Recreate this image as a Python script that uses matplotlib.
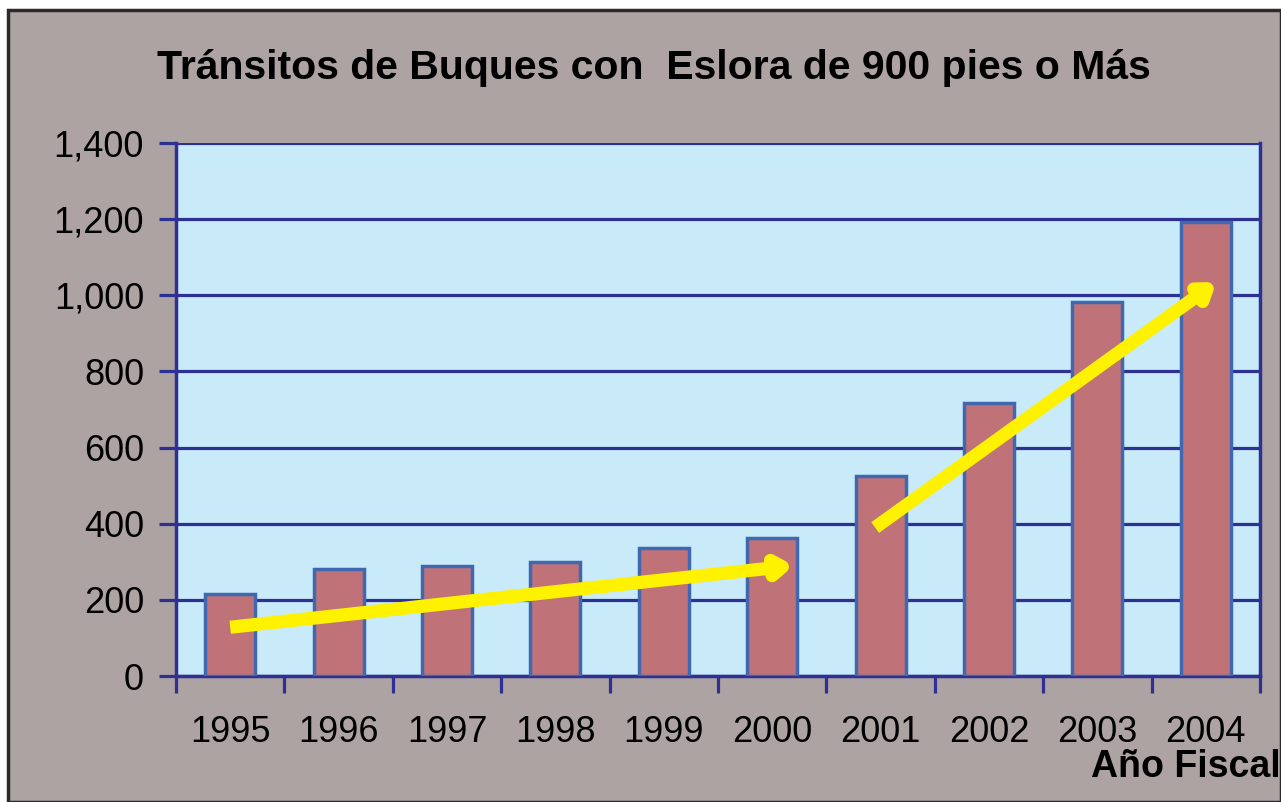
import numpy as np
import matplotlib.pyplot as plt
from matplotlib.patches import Rectangle

plt.switch_backend('Agg')

# data
years = ['1995', '1996', '1997', '1998', '1999',
         '2000', '2001', '2002', '2003', '2004']
transits = [215, 281, 289, 299, 336, 362, 525, 717, 982, 1192]

# trend arrows (start, end) in data units: (bar index, value)
arrow_early = [(0.0, 128), (5.2, 290)]
arrow_late = [(5.95, 390), (9.1, 1035)]

title = 'Tránsitos de Buques con  Eslora de 900 pies o Más'
xlabel = 'Año Fiscal'

bg_gray = '#ADA3A2'
plot_bg = '#C8EAF9'
bar_fill = '#BF7378'
bar_edge = '#4068B0'
navy = '#2E3192'
yellow = '#FFF200'

plt.rcParams['font.family'] = ['Liberation Sans', 'DejaVu Sans']

fig = plt.figure(figsize=[12.81, 8.02], dpi=100)
fig.patch.set_facecolor('white')

# outer gray frame of the chart
fig.patches.append(Rectangle((8 / 1281, 0), 1 - 8 / 1281, 1 - 10 / 802,
                             transform=fig.transFigure, facecolor=bg_gray,
                             edgecolor='#2b2b2b', lw=2.5, zorder=-5))

ax = fig.add_axes([176 / 1281, 1 - 676 / 802,
                   (1260 - 176) / 1281, (676 - 143) / 802])
ax.set_facecolor(plot_bg)

x = np.arange(len(years))
ax.bar(x, transits, width=0.46, color=bar_fill, edgecolor=bar_edge,
       linewidth=2.5, zorder=3)

ax.set_xlim(-0.5, len(years) - 0.5)
ax.set_ylim(0, 1400)
ax.set_yticks(np.arange(0, 1401, 200))
ax.set_yticklabels(['{:,}'.format(v) for v in range(0, 1401, 200)])
ax.yaxis.grid(True, color=navy, lw=2.3, zorder=1)
ax.set_axisbelow(True)

# x ticks at category boundaries, labels at centers
ax.set_xticks(np.arange(-0.5, len(years), 1.0))
ax.set_xticklabels([])
ax.set_xticks(x, minor=True)
ax.set_xticklabels(years, minor=True)
ax.tick_params(axis='x', which='major', direction='out', length=12,
               width=2.3, color=navy)
ax.tick_params(axis='x', which='minor', length=0, pad=28, labelsize=26)
ax.tick_params(axis='y', direction='out', length=12, width=2.3,
               color=navy, labelsize=26, pad=11)

for side in ['left', 'bottom', 'right']:
    ax.spines[side].set_color(navy)
    ax.spines[side].set_linewidth(2.5)
ax.spines['top'].set_visible(False)

for start, end in [arrow_early, arrow_late]:
    ax.annotate('', xy=end, xytext=start,
                arrowprops=dict(arrowstyle='-|>,head_length=0.8,head_width=0.55',
                                color=yellow, lw=9.5, shrinkA=0, shrinkB=0,
                                capstyle='butt'),
                zorder=5)

fig.text(654 / 1281, 1 - 68 / 802, title, ha='center', va='center',
         fontsize=29.5, fontweight='bold')
fig.text(1281 / 1281, 1 - 767 / 802, xlabel, ha='right', va='center',
         fontsize=27, fontweight='bold')

plt.savefig('out.png', dpi=100, facecolor=fig.get_facecolor())
plt.close()
